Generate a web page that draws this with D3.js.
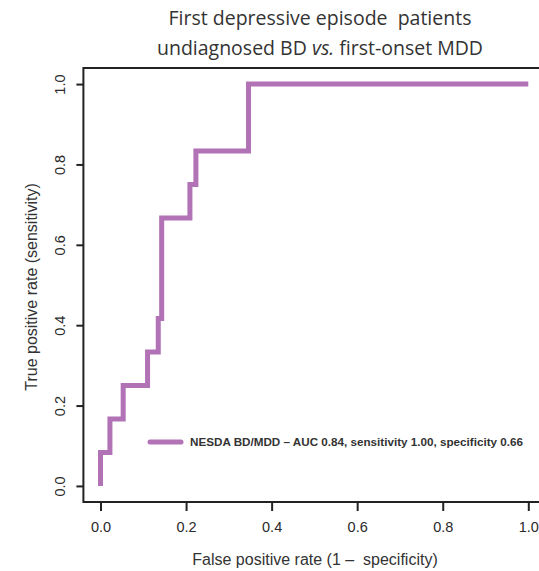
<!DOCTYPE html>
<html><head><meta charset="utf-8">
<script src="https://cdn.jsdelivr.net/npm/d3@7"></script>
<style>body{margin:0;background:#fff}svg{display:block}text{white-space:pre}</style>
</head><body><div id="c"></div>
<script>
const fpr = [0, 0, 0.022, 0.022, 0.053, 0.053, 0.11, 0.11, 0.135, 0.135, 0.143, 0.143, 0.209, 0.209, 0.223, 0.223, 0.346, 0.346, 1];
const tpr = [0, 0.0833, 0.0833, 0.1667, 0.1667, 0.25, 0.25, 0.3333, 0.3333, 0.4167, 0.4167, 0.6667, 0.6667, 0.75, 0.75, 0.8333, 0.8333, 1, 1];
const xTicks = [0, 0.2, 0.4, 0.6, 0.8, 1.0];
const yTicks = [0, 0.2, 0.4, 0.6, 0.8, 1.0];
const legendLabel = "NESDA BD/MDD – AUC 0.84, sensitivity 1.00, specificity 0.66";
const titleLine1 = "First depressive episode  patients";
const xTitle = "False positive rate (1 –  specificity)";
const yTitle = "True positive rate (sensitivity)";
const color = "#b172b6";

const W = 539, H = 571;
const svg = d3.select("#c").append("svg").attr("width", W).attr("height", H);
const x = d3.scaleLinear().domain([-0.04, 1.04]).range([83.4, 545.4]);
const y = d3.scaleLinear().domain([-0.04, 1.04]).range([502, 68]);
const af = "Liberation Sans, Arial, sans-serif";

// box
svg.append("rect").attr("x", x(-0.04)).attr("y", y(1.04))
  .attr("width", x(1.04) - x(-0.04)).attr("height", y(-0.04) - y(1.04))
  .attr("fill", "none").attr("stroke", "#222").attr("stroke-width", 2);

// x axis
const xa = svg.append("g").attr("transform", `translate(0,${y(-0.04)})`)
  .call(d3.axisBottom(x).tickValues(xTicks).tickFormat(d3.format(".1f")).tickSize(9).tickPadding(11));
xa.select(".domain").remove();
xa.selectAll("line").attr("stroke", "#222").attr("stroke-width", 2);
xa.selectAll("text").attr("font-family", af).attr("font-size", 14.5).attr("fill", "#2a2a2a");

// y axis
const ya = svg.append("g").attr("transform", `translate(${x(-0.04)},0)`)
  .call(d3.axisLeft(y).tickValues(yTicks).tickFormat(d3.format(".1f")).tickSize(7).tickPadding(0));
ya.select(".domain").remove();
ya.selectAll("line").attr("stroke", "#222").attr("stroke-width", 2);
ya.selectAll("text").attr("font-family", af).attr("font-size", 14.5).attr("fill", "#2a2a2a")
  .attr("text-anchor", "middle").attr("x", 0).attr("dy", 0)
  .attr("transform", "translate(-22,0) rotate(-90)").attr("dominant-baseline", "middle");

// curve
const pts = fpr.map((v, i) => [v, tpr[i]]);
svg.append("path").datum(pts)
  .attr("d", d3.line().x(d => x(d[0])).y(d => y(d[1])))
  .attr("fill", "none").attr("stroke", color).attr("stroke-width", 5)
  .attr("stroke-linejoin", "miter").attr("stroke-linecap", "butt");

// legend
svg.append("line").attr("x1", 150).attr("x2", 181).attr("y1", 442).attr("y2", 442)
  .attr("stroke", color).attr("stroke-width", 5).attr("stroke-linecap", "round");
svg.append("text").attr("x", 190).attr("y", 446).text(legendLabel)
  .attr("font-family", af).attr("font-size", 10)
  .attr("font-weight", "bold").attr("fill", "#333").attr("textLength", 333).attr("lengthAdjust", "spacingAndGlyphs");

// titles
const tf = "Open Sans, Noto Sans, sans-serif";
svg.append("text").attr("x", 320).attr("y", 25).attr("text-anchor", "middle")
  .attr("font-family", tf).attr("font-size", 19.5).attr("fill", "#333").text(titleLine1);
const t2 = svg.append("text").attr("x", 320).attr("y", 55).attr("text-anchor", "middle")
  .attr("font-family", tf).attr("font-size", 19.5).attr("fill", "#333");
t2.append("tspan").text("undiagnosed BD ");
t2.append("tspan").attr("font-style", "italic").text("vs.");
t2.append("tspan").text(" first-onset MDD");

svg.append("text").attr("x", 315).attr("y", 565).attr("text-anchor", "middle")
  .attr("font-family", af).attr("font-size", 16).attr("fill", "#333").text(xTitle);
svg.append("text").attr("transform", "translate(37,287) rotate(-90)").attr("text-anchor", "middle")
  .attr("font-family", af).attr("font-size", 16).attr("fill", "#333").text(yTitle);
</script></body></html>
